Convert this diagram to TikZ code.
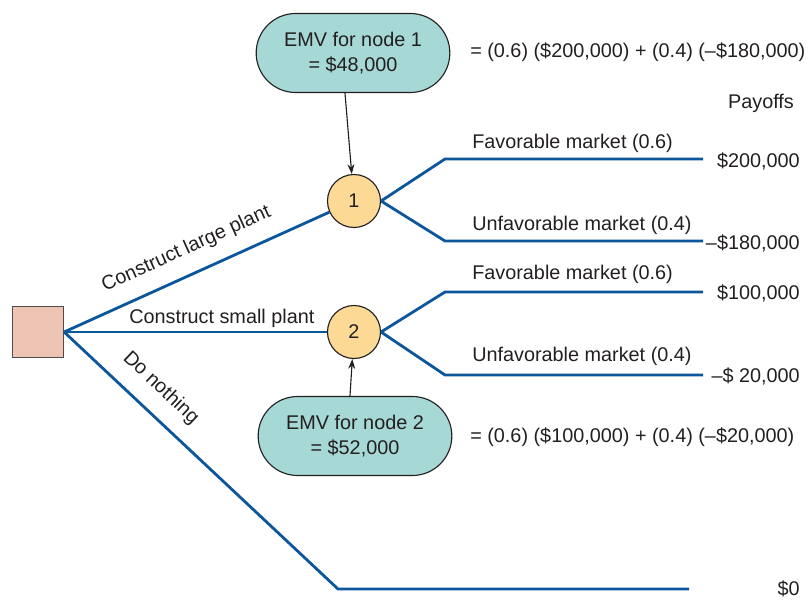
\documentclass[tikz,border=0pt]{standalone}
\usepackage{fontspec}
\setmainfont{Liberation Sans}
\usetikzlibrary{shapes.misc,arrows.meta,positioning}
\definecolor{branch}{RGB}{12,86,156}
\definecolor{emvfill}{RGB}{166,216,214}
\definecolor{chance}{RGB}{252,218,150}
\definecolor{decision}{RGB}{238,196,180}
\definecolor{ink}{RGB}{35,31,32}

\begin{document}
\begin{tikzpicture}[x=0.025cm, y=-0.025cm,
    font=\fontsize{14.1}{17.5}\selectfont, text=ink,
    decbox/.style={rectangle, draw=ink!80, fill=decision, line width=0.9pt,
                   minimum size=1.275cm, inner sep=0pt},
    chancenode/.style={circle, draw=ink, fill=chance, line width=0.8pt,
                       minimum size=1.325cm, inner sep=0pt},
    emv/.style={rounded rectangle, draw=ink, fill=emvfill, line width=0.8pt,
                minimum width=5.075cm, minimum height=1.975cm, align=center},
    br/.style={branch, line width=2pt},
    arr/.style={-{Stealth[length=7pt,width=5pt]}, ink, line width=0.8pt},
    lbl/.style={anchor=west, inner sep=0pt},
    pay/.style={anchor=east, inner sep=0pt}
]
\useasboundingbox (0,0) rectangle (812,600);

% Decision and chance nodes
\node[decbox] (dec) at (38,332) {};
\node[chancenode] (n1) at (354,201) {1};
\node[chancenode] (n2) at (354,332) {2};

% EMV boxes
\node[emv] (emv1) at (353,53) {EMV for node 1\\= \$48,000};
\node[emv] (emv2) at (355,436) {EMV for node 2\\= \$52,000};
\node[lbl] (eq1) at (470,52) {= (0.6) (\$200,000) + (0.4) (--\$180,000)};
\node[lbl] (eq2) at (470,437) {= (0.6) (\$100,000) + (0.4) (--\$20,000)};

% Corners and ends of the branches
\coordinate (k1) at (445,159);
\coordinate (e1) at (703,159);
\coordinate (k2) at (445,241);
\coordinate (e2) at (703,241);
\coordinate (k3) at (445,292);
\coordinate (e3) at (703,292);
\coordinate (k4) at (445,375);
\coordinate (e4) at (703,375);
\coordinate (k5) at (338,589);
\coordinate (e5) at (689,589);

% Branches
\draw[br] (dec.east) -- node[sloped, above=7pt, pos=0.5, text=ink] {Construct large plant} (n1);
\draw[br] (dec.east) -- node[above, pos=0.6, text=ink, inner sep=2pt] {Construct small plant} (n2);
\draw[br] (dec.east) -- node[sloped, above=7pt, pos=0.29, text=ink] {Do nothing} (k5) -- (e5);
\draw[br] (n1.east) -- (k1) -- (e1);
\draw[br] (n1.east) -- (k2) -- (e2);
\draw[br] (n2.east) -- (k3) -- (e3);
\draw[br] (n2.east) -- (k4) -- (e4);

% Outcome labels
\node[lbl] (f1) at (472,143) {Favorable market (0.6)};
\node[lbl] (u1) at (472,225) {Unfavorable market (0.4)};
\node[lbl] (f2) at (472,274) {Favorable market (0.6)};
\node[lbl] (u2) at (472,356) {Unfavorable market (0.4)};

% Payoffs
\node (payhead) at (761,103) {Payoffs};
\node[pay] (p1) at (800,161) {\$200,000};
\node[pay] (p2) at (800,243) {--\$180,000};
\node[pay] (p3) at (800,293) {\$100,000};
\node[pay] (p4) at (800,376) {--\$ 20,000};
\node[pay] (p5) at (800,589) {\$0};

% EMV arrows
\draw[arr] ([xshift=-0.2cm]emv1.south) -- (n1);
\draw[arr] ([xshift=-0.125cm]emv2.north) -- (n2);
\end{tikzpicture}
\end{document}
